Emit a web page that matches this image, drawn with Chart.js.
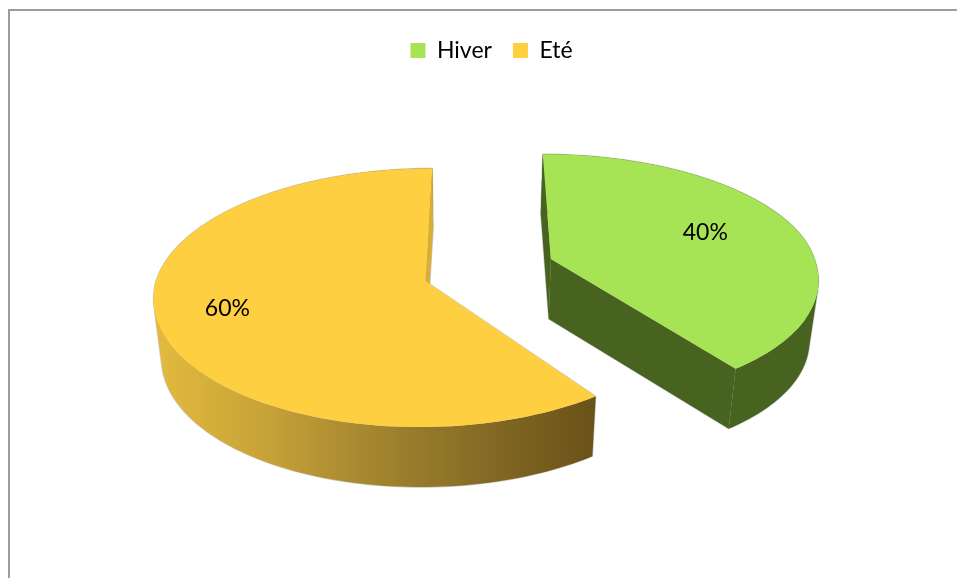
<!DOCTYPE html>
<html>
<head>
<meta charset="utf-8">
<style>
  html, body { margin: 0; padding: 0; background: #fff; overflow: hidden; width: 957px; height: 578px; }
  canvas { display: block; }
</style>
<script src="https://cdn.jsdelivr.net/npm/chart.js@4"></script>
</head>
<body>
<canvas id="chart" width="983" height="600"></canvas>
<script>
const categories = ["Hiver", "Eté"];
const seriesValues = [40, 60];
const sliceColors = ["#a6e455", "#fecf40"];

// perspective of the pie plane, in page pixels
const VIEW = { vx: 468, vy: -814, dist: 1095, k: 0.117, scale: 272 };
const ORIGIN = { a: -0.157, b: 0 };
const WALL = { depth: 60, towardX: 465, lean: 0.0256 };

const project = (a, b) => {
  const w = 1 - VIEW.k * b;
  return { x: VIEW.vx + a * VIEW.scale / w, y: VIEW.vy + VIEW.dist / w };
};
const under = (p) => ({
  x: p.x + (WALL.towardX - p.x) * WALL.lean,
  y: p.y + WALL.depth
});
const addPoly = (ctx, pts) => {
  pts.forEach((pt, n) => (n ? ctx.lineTo(pt.x, pt.y) : ctx.moveTo(pt.x, pt.y)));
  ctx.closePath();
};
const tracePoly = (ctx, pts) => {
  ctx.beginPath();
  addPoly(ctx, pts);
};
// all quads wound the same way, so a nonzero fill gives their union
const wallQuad = (p, q) => {
  const quad = [p, q, under(q), under(p)];
  let area = 0;
  quad.forEach((m, n) => {
    const o = quad[(n + 1) % 4];
    area += m.x * o.y - o.x * m.y;
  });
  return area < 0 ? quad.reverse() : quad;
};

const pie3d = {
  id: "pie3d",
  beforeDraw(chart) {
    const { ctx } = chart;
    ctx.save();
    ctx.strokeStyle = "#9c9c9c";
    ctx.lineWidth = 2;
    ctx.beginPath();
    ctx.moveTo(9, 600);
    ctx.lineTo(9, 10);
    ctx.lineTo(983, 10);
    ctx.stroke();
    ctx.restore();
  },
  beforeDatasetsDraw(chart, args, opts) {
    const { ctx } = chart;
    const arcs = chart.getDatasetMeta(0).data;
    const total = seriesValues.reduce((s, v) => s + v, 0);
    ctx.save();
    ctx.lineJoin = "round";
    arcs.forEach((arc, i) => {
      const [ox, oy] = opts.explode[i];
      const [sx, far, near, farShear, nearShear] = opts.rimShape[i];
      const ca = ORIGIN.a + ox;
      const cb = ORIGIN.b + oy;
      const apex = project(ca, cb);
      const rim = [];
      const steps = Math.ceil((arc.endAngle - arc.startAngle) / (Math.PI / 120));
      for (let s = 0; s <= steps; s++) {
        const t = arc.startAngle + (arc.endAngle - arc.startAngle) * s / steps;
        const sin = Math.sin(t);
        const b = sin * (sin < 0 ? far : near);
        const lean = b * (b < 0 ? farShear : nearShear);
        rim.push(project(ca + sx * Math.cos(t) + lean, cb + b));
      }
      const shape = [apex, ...rim];
      const last = rim[rim.length - 1];
      const rimQuads = rim.slice(1).map((p, n) => wallQuad(rim[n], p));
      // a straight side shows only if it faces down the screen
      const sides = [[apex, rim[0]], [last, apex]]
        .filter(([p, q]) => q.x < p.x)
        .map(([p, q]) => wallQuad(p, q));

      const outer = ctx.createLinearGradient(opts.wallFrom[i], 0, opts.wallTo[i], 0);
      opts.wallStops[i].forEach((c, n, all) => outer.addColorStop(n / (all.length - 1), c));

      // faint grey edge round the whole body first
      ctx.strokeStyle = "rgba(125,125,125,0.4)";
      ctx.lineWidth = 1.3;
      ctx.beginPath();
      addPoly(ctx, shape);
      [...rimQuads, ...sides].forEach((q) => addPoly(ctx, q));
      ctx.stroke();

      ctx.beginPath();
      rimQuads.forEach((q) => addPoly(ctx, q));
      ctx.fillStyle = outer;
      ctx.fill();

      sides.forEach((q) => {
        tracePoly(ctx, q);
        ctx.fillStyle = opts.sideColors[i];
        ctx.fill();
      });

      tracePoly(ctx, shape);
      ctx.fillStyle = arc.options.backgroundColor;
      ctx.fill();

      const mid = (arc.startAngle + arc.endAngle) / 2;
      const f = opts.labelAt[i];
      const spot = project(ca + f * Math.cos(mid), cb + f * Math.sin(mid));
      ctx.fillStyle = "#000";
      ctx.font = "23px Lato";
      ctx.textAlign = "center";
      ctx.textBaseline = "middle";
      ctx.fillText(Math.round(seriesValues[i] / total * 100) + "%", spot.x, spot.y - 3);
    });
    ctx.restore();
    return false;
  }
};

new Chart(document.getElementById("chart"), {
  type: "pie",
  data: {
    labels: categories,
    datasets: [{ data: seriesValues, backgroundColor: sliceColors, borderWidth: 0 }]
  },
  options: {
    responsive: false,
    animation: false,
    layout: { padding: { top: 18 } },
    plugins: {
      tooltip: { enabled: false },
      legend: {
        position: "top",
        labels: {
          color: "#000",
          boxWidth: 15,
          boxHeight: 15,
          padding: 21,
          font: { family: "Lato", size: 23 }
        }
      },
      pie3d: {
        explode: [[0.468, -0.175], [0, 0]],
        rimShape: [[0.989, 0.945, 1, 0, 0.023], [0.99, 0.98, 1.006, -0.011, 0]],
        labelAt: [0.63, 0.74],
        sideColors: ["#47631f", "#d9ae35"],
        wallFrom: [540, 157],
        wallTo: [820, 596],
        wallStops: [
          ["#47631f", "#47631f"],
          ["#e3ba3e", "#c7a237", "#a3852f", "#846a24", "#6a5118"]
        ]
      }
    }
  },
  plugins: [pie3d]
});
</script>
</body>
</html>
